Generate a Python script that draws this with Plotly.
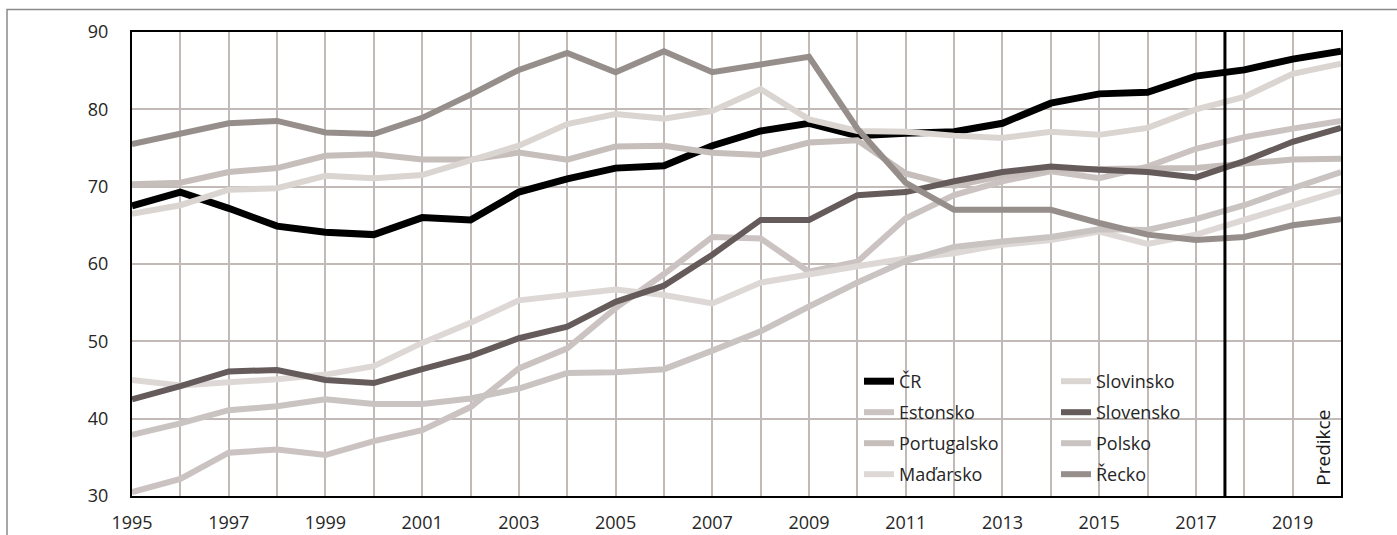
import plotly.graph_objects as go

years = list(range(1995, 2021))

cr = [67.5, 69.3, 67.2, 64.9, 64.1, 63.8, 66.0, 65.7, 69.3, 71.0, 72.4, 72.7, 75.3, 77.2, 78.2, 76.6,
      76.9, 77.1, 78.2, 80.8, 82.0, 82.2, 84.3, 85.1, 86.5, 87.5]
estonsko = [30.5, 32.2, 35.6, 36.0, 35.3, 37.1, 38.5, 41.5, 46.5, 49.1, 54.3, 58.7, 63.5, 63.3, 59.0, 60.3,
            65.9, 68.9, 70.7, 72.0, 71.1, 72.6, 74.9, 76.4, 77.5, 78.5]
portugalsko = [70.3, 70.5, 71.9, 72.4, 74.0, 74.2, 73.5, 73.5, 74.4, 73.5, 75.2, 75.3, 74.4, 74.1, 75.7, 76.0,
               71.7, 70.1, 71.4, 72.2, 72.3, 72.3, 72.4, 73.0, 73.5, 73.6]
madarsko = [45.0, 44.3, 44.7, 45.1, 45.7, 46.8, 49.8, 52.4, 55.3, 56.0, 56.7, 56.0, 54.9, 57.6, 58.7, 59.7,
            60.7, 61.4, 62.5, 63.1, 64.2, 62.6, 63.8, 65.7, 67.6, 69.5]
slovinsko = [66.5, 67.6, 69.6, 69.8, 71.4, 71.1, 71.5, 73.5, 75.3, 78.1, 79.4, 78.8, 79.8, 82.6, 78.7, 77.2,
             77.1, 76.6, 76.3, 77.1, 76.7, 77.6, 80.0, 81.6, 84.6, 85.9]
slovensko = [42.5, 44.2, 46.1, 46.3, 45.0, 44.6, 46.4, 48.1, 50.4, 51.9, 55.1, 57.2, 61.2, 65.7, 65.7, 68.9,
             69.3, 70.7, 71.9, 72.6, 72.2, 71.9, 71.2, 73.3, 75.8, 77.6]
polsko = [37.9, 39.4, 41.1, 41.6, 42.5, 41.9, 41.9, 42.6, 43.9, 45.9, 46.0, 46.4, 48.8, 51.3, 54.5, 57.6,
          60.4, 62.2, 62.9, 63.5, 64.5, 64.4, 65.8, 67.6, 69.8, 71.9]
recko = [75.5, 76.8, 78.2, 78.5, 77.0, 76.8, 78.9, 81.9, 85.1, 87.3, 84.8, 87.5, 84.8, 85.8, 86.8, 77.5,
         70.5, 67.0, 67.0, 67.0, 65.3, 63.8, 63.1, 63.5, 65.0, 65.8]

prediction_start = 2017.6
x_ticks = list(range(1995, 2021, 2))
y_ticks = [30, 40, 50, 60, 70, 80, 90]

# name, values, colour, width, legend column, legend row
series = [
    ("ČR", cr, "#000000", 7, 0, 0),
    ("Estonsko", estonsko, "#cac3c1", 6, 0, 1),
    ("Portugalsko", portugalsko, "#c6bebb", 6, 0, 2),
    ("Maďarsko", madarsko, "#ddd8d5", 6, 0, 3),
    ("Slovinsko", slovinsko, "#dbd5d2", 6, 1, 0),
    ("Slovensko", slovensko, "#645b5a", 6, 1, 1),
    ("Polsko", polsko, "#c9c3c1", 6, 1, 2),
    ("Řecko", recko, "#968e8b", 6, 1, 3),
]

W, H = 1397, 535
ml, mr, mt, mb = 132, 56, 32, 39
pw, ph = W - ml - mr, H - mt - mb

def px_x(p):
    return (p - ml) / pw

def px_y(p):
    return (H - mb - p) / ph

grid = "#c1bab7"
fam = "Open Sans, Noto Sans, sans-serif"
font = dict(family=fam, size=18, color="#262626")

legend_cols = [859, 1056]
legend_row0, legend_step = 363, 31

fig = go.Figure()
legends = {}
for i, (name, vals, color, w, col, row) in enumerate(series):
    key = "legend" if i == 0 else f"legend{i + 1}"
    fig.add_trace(go.Scatter(x=years, y=vals, name=name, mode="lines",
                             line=dict(color=color, width=w), legend=key))
    legends[key] = dict(x=px_x(legend_cols[col]), y=px_y(legend_row0 + row * legend_step),
                        orientation="v", xanchor="left", yanchor="top",
                        bgcolor="rgba(0,0,0,0)", font=font, borderwidth=0, itemwidth=30)

fig.update_layout(
    width=W, height=H,
    margin=dict(l=ml, r=mr, t=mt, b=mb, autoexpand=False),
    paper_bgcolor="white", plot_bgcolor="white",
    font=font,
    showlegend=True,
    xaxis=dict(range=[1995, 2020], tickvals=x_ticks, ticktext=[str(v) for v in x_ticks],
               showgrid=True, gridcolor=grid, gridwidth=2,
               minor=dict(dtick=1, tick0=1995, showgrid=True, gridcolor=grid, gridwidth=2),
               showline=True, linecolor="black", linewidth=2, mirror=True,
               ticks="", ticklabelstandoff=9, zeroline=False),
    yaxis=dict(range=[30, 90], tickvals=y_ticks, showgrid=True, gridcolor=grid, gridwidth=2,
               showline=True, linecolor="black", linewidth=2, mirror=True,
               ticks="", ticklabelstandoff=18, zeroline=False),
    shapes=[
        dict(type="rect", xref="paper", yref="paper", x0=px_x(825), x1=px_x(1217),
             y0=0, y1=px_y(366), fillcolor="white", line=dict(width=0), layer="between"),
        dict(type="line", xref="x", yref="paper", x0=prediction_start, x1=prediction_start,
             y0=0, y1=1, line=dict(color="black", width=3)),
        dict(type="rect", xref="paper", yref="paper", x0=px_x(7), x1=1.3, y0=-0.3,
             y1=px_y(9.5), line=dict(color="#8a8a8a", width=1.5), fillcolor="rgba(0,0,0,0)"),
    ],
    annotations=[
        dict(text="Predikce", x=2019.62, y=36.2, xref="x", yref="y", textangle=-90,
             showarrow=False, font=dict(family=fam, size=19, color="#1a1a1a")),
    ],
)
fig.update_layout(**legends)

fig.write_html("out.html", config={"displayModeBar": False},
               post_script="document.body.style.margin='0';")
